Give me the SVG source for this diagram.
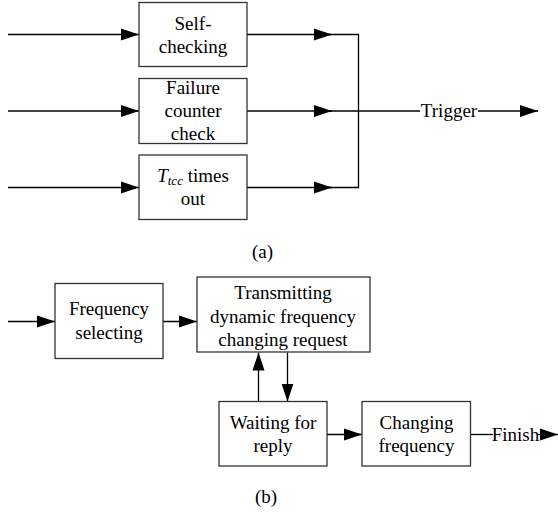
<svg xmlns="http://www.w3.org/2000/svg" width="558" height="512" viewBox="0 0 558 512">
<style>
.box{fill:#fff;stroke:#333;stroke-width:1.3}
.ln{fill:none;stroke:#000;stroke-width:1.3}
text{font-family:"Liberation Serif","Times New Roman",serif;font-size:19px;fill:#000;text-anchor:middle}
</style>
<defs>
<marker id="ah" markerUnits="userSpaceOnUse" markerWidth="18" markerHeight="14" refX="18" refY="7" orient="auto">
<path d="M0,1 L18,7 L0,13 Z" fill="#000"/>
</marker>
</defs>
<rect width="558" height="512" fill="#fff"/>
<g id="connectors">
<line class="ln" x1="8" y1="34.5" x2="139" y2="34.5" marker-end="url(#ah)"/>
<line class="ln" x1="8" y1="111" x2="139" y2="111" marker-end="url(#ah)"/>
<line class="ln" x1="8" y1="187.5" x2="139" y2="187.5" marker-end="url(#ah)"/>
<line class="ln" x1="247" y1="34.5" x2="332" y2="34.5" marker-end="url(#ah)"/>
<line class="ln" x1="247" y1="111" x2="332" y2="111" marker-end="url(#ah)"/>
<line class="ln" x1="247" y1="187.5" x2="332" y2="187.5" marker-end="url(#ah)"/>
<polyline class="ln" points="320,34.5 358.5,34.5 358.5,187.5 320,187.5"/>
<line class="ln" x1="320" y1="111" x2="420" y2="111"/>
<line class="ln" x1="478" y1="111" x2="538" y2="111" marker-end="url(#ah)"/>
<line class="ln" x1="8" y1="321.5" x2="55" y2="321.5" marker-end="url(#ah)"/>
<line class="ln" x1="163" y1="321.5" x2="197" y2="321.5" marker-end="url(#ah)"/>
<line class="ln" x1="258.5" y1="401.5" x2="258.5" y2="352.5" marker-end="url(#ah)"/>
<line class="ln" x1="287.5" y1="352.5" x2="287.5" y2="401.5" marker-end="url(#ah)"/>
<line class="ln" x1="327" y1="434.5" x2="362" y2="434.5" marker-end="url(#ah)"/>
<line class="ln" x1="471" y1="434.5" x2="493" y2="434.5"/>
<line class="ln" x1="538" y1="434.5" x2="558" y2="434.5" marker-end="url(#ah)"/>
</g>
<g id="self-checking">
<rect class="box" x="139" y="2.5" width="108" height="64"/>
<text x="193" y="29.5">Self-</text>
<text x="193" y="52.5">checking</text>
</g>
<g id="failure-counter-check">
<rect class="box" x="139" y="78.5" width="108" height="65"/>
<text x="193" y="94">Failure</text>
<text x="193" y="117">counter</text>
<text x="193" y="140">check</text>
</g>
<g id="ttcc-times-out">
<rect class="box" x="139" y="155" width="108" height="64.5"/>
<text x="193" y="182"><tspan font-style="italic">T</tspan><tspan font-style="italic" font-size="13" dy="3">tcc</tspan><tspan dy="-3"> times</tspan></text>
<text x="193" y="205">out</text>
</g>
<g id="trigger-label"><text x="449" y="117">Trigger</text></g>
<g id="label-a"><text x="262.5" y="258">(a)</text></g>
<g id="frequency-selecting">
<rect class="box" x="55" y="283.5" width="108" height="75"/>
<text x="109" y="315">Frequency</text>
<text x="109" y="338.5">selecting</text>
</g>
<g id="transmitting">
<rect class="box" x="197" y="277" width="173" height="75"/>
<text x="283" y="299">Transmitting</text>
<text x="283" y="322.5">dynamic frequency</text>
<text x="283" y="346">changing request</text>
</g>
<g id="waiting-for-reply">
<rect class="box" x="219" y="401.5" width="108" height="64.5"/>
<text x="273" y="428.5">Waiting for</text>
<text x="273" y="451.5">reply</text>
</g>
<g id="changing-frequency">
<rect class="box" x="362" y="401.5" width="108.5" height="64.5"/>
<text x="416.5" y="428.5">Changing</text>
<text x="416.5" y="451.5">frequency</text>
</g>
<g id="finish-label"><text x="515.5" y="440.5">Finish</text></g>
<g id="label-b"><text x="266" y="503">(b)</text></g>
</svg>
